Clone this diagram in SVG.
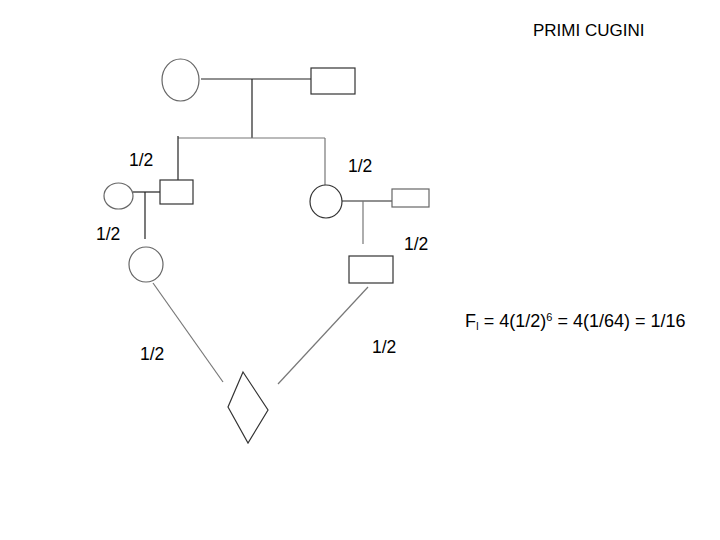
<svg xmlns="http://www.w3.org/2000/svg" width="720" height="540" viewBox="0 0 720 540">
<style>
.n{fill:#fff;stroke:#333;stroke-width:1.2}
.c{fill:#fff;stroke:#666;stroke-width:1.2}
.l{stroke:#222;stroke-width:1.2;fill:none}
.d{stroke:#777;stroke-width:1.2;fill:none}
text{font-family:"Liberation Sans",Arial,sans-serif;font-size:17.5px;fill:#000}
</style>
<rect width="720" height="540" fill="#fff"/>
<g id="connectors">
<line class="l" x1="201" y1="79" x2="311" y2="79"/>
<line class="l" x1="252" y1="79" x2="252" y2="138"/>
<line class="d" x1="178" y1="138" x2="325" y2="138"/>
<line class="l" x1="178" y1="136" x2="178" y2="180"/>
<line class="d" x1="325" y1="138" x2="325" y2="185"/>
<line class="l" x1="133" y1="192" x2="160" y2="192"/>
<line class="l" x1="145" y1="192" x2="145" y2="239"/>
<line class="l" x1="342" y1="201" x2="392" y2="201"/>
<line class="d" x1="363" y1="201" x2="363" y2="244"/>
<line class="d" x1="153" y1="283" x2="223" y2="382"/>
<line class="d" x1="368" y1="287" x2="278" y2="384"/>
</g>
<g id="gp-f"><ellipse class="c" cx="180.5" cy="80" rx="18.5" ry="21"/></g>
<g id="gp-m"><rect class="n" x="311" y="68" width="44" height="26"/></g>
<g id="p1"><rect class="n" x="160" y="180" width="33" height="24"/></g>
<g id="p1-wife"><ellipse class="c" cx="118.5" cy="196" rx="14.5" ry="13"/></g>
<g id="p2"><ellipse class="n" cx="326" cy="201.5" rx="16" ry="16.5"/></g>
<g id="p2-husb"><rect class="c" x="392" y="189" width="37" height="18"/></g>
<g id="c1"><ellipse class="c" cx="146" cy="264.5" rx="17" ry="17.5"/></g>
<g id="c2"><rect class="n" x="349" y="256" width="44" height="27"/></g>
<g id="child"><polygon class="n" points="243,372 268,410 248,443 228,407"/></g>
<g id="labels">
<text x="533" y="36" style="font-size:17px">PRIMI CUGINI</text>
<text x="129" y="166">1/2</text>
<text x="348" y="172">1/2</text>
<text x="96" y="240">1/2</text>
<text x="404" y="250">1/2</text>
<text x="140" y="360">1/2</text>
<text x="372" y="353">1/2</text>
<text x="465" y="327" style="font-size:18px">F<tspan font-size="10" dy="3">I</tspan><tspan dy="-3"> = 4(1/2)</tspan><tspan font-size="11" dy="-6">6</tspan><tspan dy="6"> = 4(1/64) = 1/16</tspan></text>
</g>
</svg>
